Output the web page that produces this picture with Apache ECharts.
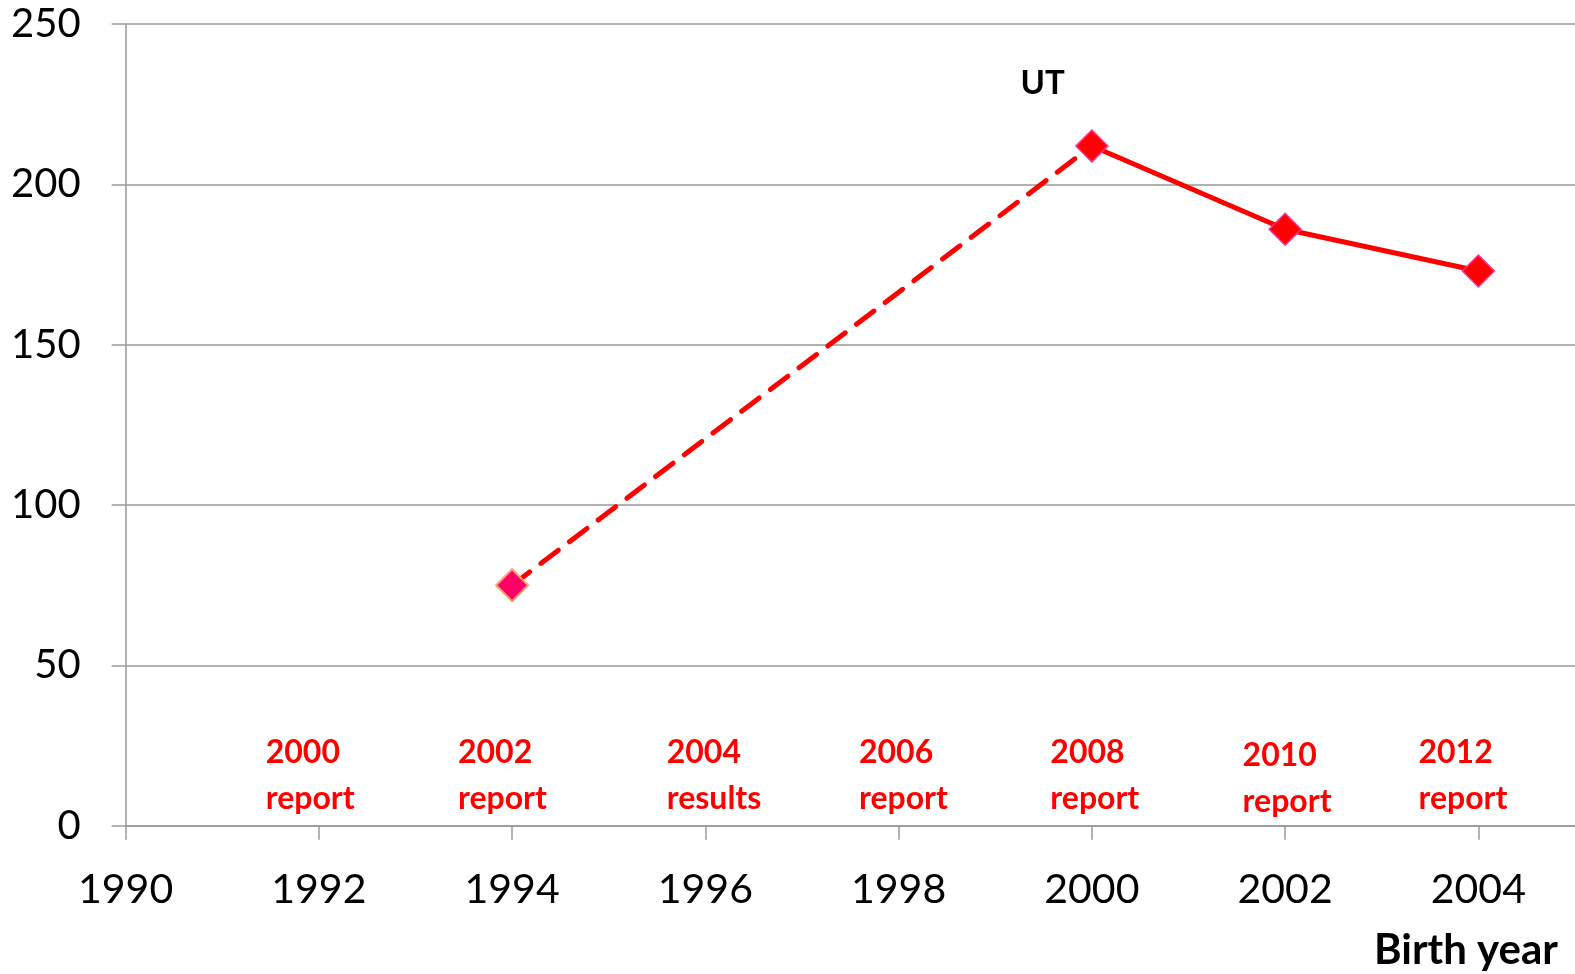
<!DOCTYPE html>
<html><head><meta charset="utf-8">
<script src="https://cdn.jsdelivr.net/npm/echarts@6/dist/echarts.min.js"></script>
<style>html,body{margin:0;padding:0;background:#fff}#c{width:1575px;height:974px}</style>
</head><body><div id="c"></div>
<script>
const years = [1994, 2000, 2002, 2004];
const values = [75, 212, 186, 173];
const xTicks = [1990, 1992, 1994, 1996, 1998, 2000, 2002, 2004];
const yTicks = [0, 50, 100, 150, 200, 250];
const noteLabels = ['2000\nreport', '2002\nreport', '2004\nresults', '2006\nreport', '2008\nreport', '2010\nreport', '2012\nreport'];
const noteX = [1991.45, 1993.44, 1995.60, 1997.59, 1999.57, 2001.56, 2003.38];
const noteY = [15.6, 15.6, 15.6, 15.6, 15.6, 14.7, 15.6];
const seriesName = 'UT';
const seriesNameX = 1999.49;
const seriesNameY = 231.5;
const xTitle = 'Birth year';

const FONT = 'Lato';
const dashedData = [[years[0], values[0]], [years[1], values[1]]];
const solidData = years.slice(1).map((y, i) => [y, values[i + 1]]);
const markerData = years.map((y, i) => ({
  value: [y, values[i]],
  itemStyle: i === 0 ? {color: '#FF0066', borderColor: '#F5A070', borderWidth: 2, opacity: 1}
                     : {color: '#FF0000', borderColor: '#FF3399', borderWidth: 1.5, opacity: 1}
}));
const noteData = noteLabels.map((t, i) => [noteX[i], noteY[i], t]);

const chart = echarts.init(document.getElementById('c'), null, {renderer: 'canvas'});
chart.setOption({
  animation: false,
  backgroundColor: '#fff',
  title: {
    text: xTitle, right: 12, top: 924,
    textStyle: {fontFamily: FONT, fontWeight: 'bold', fontSize: 42, color: '#000'}
  },
  grid: {left: 125.6, top: 24.1, right: 0, bottom: 148.3, containLabel: false},
  xAxis: {
    type: 'value', min: 1990, max: 2005, interval: 2,
    axisLine: {show: true, lineStyle: {color: '#999', width: 1.5}},
    axisTick: {show: true, length: 14, inside: false, customValues: xTicks, lineStyle: {color: '#999', width: 1.5}},
    axisLabel: {customValues: xTicks, margin: 44, fontFamily: FONT, fontSize: 41, color: '#000', formatter: v => String(v)},
    splitLine: {show: false}
  },
  yAxis: {
    type: 'value', min: 0, max: 250, interval: 50,
    axisLine: {show: true, lineStyle: {color: '#999', width: 1.5}},
    axisTick: {show: true, length: 14, lineStyle: {color: '#999', width: 1.5}},
    axisLabel: {margin: 45, fontFamily: FONT, fontSize: 40, color: '#000'},
    splitLine: {show: true, lineStyle: {color: '#999', width: 1.5}}
  },
  series: [
    {type: 'line', data: dashedData, symbol: 'none', z: 2,
     lineStyle: {color: '#FF0000', width: 5, type: [22, 14], cap: 'round'}},
    {type: 'line', data: solidData, symbol: 'none', z: 2,
     lineStyle: {color: '#FF0000', width: 5}},
    {type: 'scatter', data: markerData, symbol: 'diamond', symbolSize: 32, z: 3,
     itemStyle: {opacity: 1}},
    {type: 'scatter', data: noteData, symbolSize: 0, z: 4, silent: true,
     itemStyle: {color: '#FF0000', opacity: 1},
     label: {show: true, position: 'inside', align: 'left', verticalAlign: 'middle',
             formatter: p => p.value[2], fontFamily: FONT, fontWeight: 'bold',
             fontSize: 32, lineHeight: 46, color: '#FF0000', textBorderWidth: 0, opacity: 1}},
    {type: 'scatter', data: [[seriesNameX, seriesNameY, seriesName]], symbolSize: 0, z: 4, silent: true,
     itemStyle: {color: '#000', opacity: 1},
     label: {show: true, position: 'inside', align: 'center', verticalAlign: 'middle',
             formatter: p => p.value[2], fontFamily: FONT, fontWeight: 'bold',
             fontSize: 33, color: '#000', textBorderWidth: 0, opacity: 1}}
  ]
});
</script></body></html>
